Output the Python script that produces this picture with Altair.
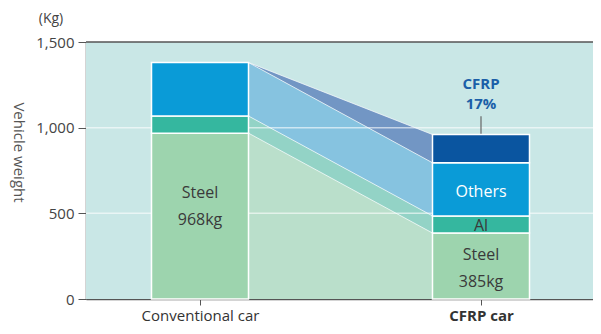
import altair as alt
import pandas as pd

# ---- data ----
categories = ["Conventional car", "CFRP car"]
materials = ["Steel", "Al", "Others", "CFRP"]
conventional_kg = [968, 100, 312, 0]
cfrp_car_kg = [385, 100, 310, 165]
bar_labels_conv = ["Steel\n968kg", "", "", ""]
bar_labels_cfrp = ["Steel\n385kg", "Al", "Others", ""]
label_y_conv = [619, 0, 0, 0]
label_y_cfrp = [257, 426, 625, 0]
cfrp_share_label = ["CFRP", "17%"]
cfrp_share_label_y = [1256, 1136]
y_ticks = [0, 500, 1000, 1500]

# ---- colours / layout ----
bar_colors = ["#9dd4ae", "#35b79f", "#0a9bd7", "#0a55a0"]
band_colors = ["#badfcb", "#93d3c6", "#86c3e0", "#7296c4"]
label_colors = ["#3a3a3a", "#3a3a3a", "#ffffff", "#ffffff"]
half_w = 0.1726
x_domain = [-0.4057, 1.3986]
W, H = 507, 257
FONT = "Open Sans"

rows = []
for ci, (cat, vals, labs, lys) in enumerate(zip(categories, [conventional_kg, cfrp_car_kg],
                                                [bar_labels_conv, bar_labels_cfrp],
                                                [label_y_conv, label_y_cfrp])):
    cum = 0
    for mi, (m, v, lab, ly) in enumerate(zip(materials, vals, labs, lys)):
        rows.append(dict(cat=cat, idx=ci, material=m, y0=cum, y1=cum + v,
                         ly=ly, label=lab, x0=ci - half_w, x1=ci + half_w,
                         bcolor=bar_colors[mi], lcolor=label_colors[mi]))
        cum += v
bars = pd.DataFrame(rows)
bars_nz = bars[bars.y1 > bars.y0]

band_rows = []
for mi, m in enumerate(materials):
    b0 = bars[(bars.idx == 0) & (bars.material == m)].iloc[0]
    b1 = bars[(bars.idx == 1) & (bars.material == m)].iloc[0]
    band_rows.append(dict(material=m, x=0 + half_w, lo=b0.y0, hi=b0.y1, c=band_colors[mi]))
    band_rows.append(dict(material=m, x=1 - half_w, lo=b1.y0, hi=b1.y1, c=band_colors[mi]))
bands = pd.DataFrame(band_rows)

totals = [sum(conventional_kg), sum(cfrp_car_kg)]

xscale = alt.Scale(domain=x_domain, nice=False, zero=False)
yscale = alt.Scale(domain=[0, 1500], nice=False, zero=False)

xaxis = alt.Axis(values=[0, 1], title=None, grid=False,
                 labelExpr="datum.value == 0 ? 'Conventional car' : 'CFRP car'",
                 labelFontWeight=alt.expr("datum.value == 1 ? 'bold' : 'normal'"),
                 labelFontSize=15, labelColor="#333", labelFont=FONT, labelPadding=3,
                 tickSize=6, tickColor="#555", domainColor="#555", domainWidth=1.5)
yaxis = alt.Axis(values=y_ticks, format=",d", grid=False, title="Vehicle weight",
                 titleAngle=90, titleX=-68, titleY=110, titleAlign="center",
                 titleBaseline="middle", titleFontWeight="normal", titleFontSize=15,
                 titleColor="#555", titleFont=FONT,
                 labelFontSize=15, labelColor="#444", labelFont=FONT, labelPadding=4,
                 tickSize=8, tickColor="#555", domainColor="#555", domainWidth=1.5)


def X(field):
    return alt.X(field, scale=xscale, axis=xaxis)


def Y(field, **kw):
    return alt.Y(field, scale=yscale, axis=yaxis, **kw)


bg = alt.Chart(pd.DataFrame({"a": [0]})).mark_rect(color="#c9e7e6").encode(
    x=alt.value(0), x2=alt.value(W), y=alt.value(0), y2=alt.value(H))

band_layer = alt.Chart(bands).mark_area(opacity=1).encode(
    x=X("x:Q"), y=Y("lo:Q", stack=None), y2="hi:Q",
    color=alt.Color("c:N", scale=None), detail="material:N",
)

band_edges = alt.Chart(bands).mark_line(color="white", strokeWidth=1, opacity=0.7).encode(
    x=X("x:Q"), y=Y("hi:Q"), detail="material:N")

grid = alt.Chart(pd.DataFrame({"v": [500, 1000]})).mark_rule(
    color="white", opacity=0.6, strokeWidth=1.5).encode(y=Y("v:Q"))

top_rule = alt.Chart(pd.DataFrame({"v": [1500]})).mark_rule(
    color="#555", strokeWidth=1.5).encode(y=Y("v:Q"))

shadow = alt.Chart(pd.DataFrame({"idx": [0, 1], "t": totals})).transform_calculate(
    x0=f"datum.idx - {half_w}", x1=f"datum.idx + {half_w}", z="0").mark_rect(
    color="#4a5a60", opacity=0.28, xOffset=3, yOffset=2).encode(
    x=X("x0:Q"), x2="x1:Q", y=Y("t:Q"), y2="z:Q")

bar_layer = alt.Chart(bars_nz).mark_rect(stroke="white", strokeWidth=1.5).encode(
    x=X("x0:Q"), x2="x1:Q", y=Y("y0:Q"), y2="y1:Q",
    color=alt.Color("bcolor:N", scale=None),
)

labels = alt.Chart(bars_nz[bars_nz.label != ""]).mark_text(
    font=FONT, fontSize=16, lineBreak="\n", lineHeight=27, baseline="middle").encode(
    x=X("idx:Q"), y=Y("ly:Q"), text="label:N", color=alt.Color("lcolor:N", scale=None))

annot_df = pd.DataFrame({"idx": [1, 1], "y": cfrp_share_label_y, "text": cfrp_share_label})
annot_text = alt.Chart(annot_df).mark_text(
    font=FONT, fontSize=15, fontWeight="bold", color="#1b5fa8", baseline="middle").encode(
    x=X("idx:Q"), y=Y("y:Q"), text="text:N")
annot_rule = alt.Chart(pd.DataFrame({"idx": [1], "top": [totals[1]]})).transform_calculate(
    a="datum.top", b="datum.top + 106").mark_rule(color="#666", strokeWidth=1.2).encode(
    x=X("idx:Q"), y=Y("a:Q"), y2="b:Q")

unit = alt.Chart(pd.DataFrame({"t": ["(Kg)"]})).mark_text(
    font=FONT, fontSize=14, color="#444", baseline="middle").encode(
    x=alt.value(-35), y=alt.value(-23), text="t:N")

chart = alt.layer(
    bg, band_layer, band_edges, grid, shadow, annot_rule, bar_layer, labels, annot_text,
    top_rule, unit
).properties(
    width=W, height=H,
    autosize=alt.AutoSizeParams(type="none"),
    padding={"left": 78, "top": 34, "right": 0, "bottom": 27},
).configure_view(fill="#c9e7e6", stroke=None).configure(background="white")

chart.save("out.html", embed_options={"renderer": "svg", "actions": False})
